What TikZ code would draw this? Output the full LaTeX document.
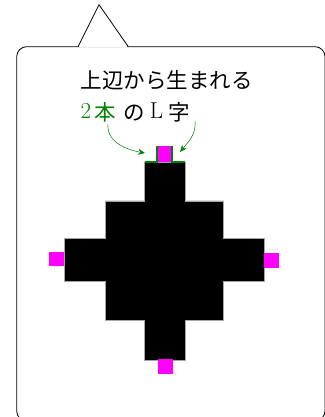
\documentclass[tikz,border=0pt]{standalone}
\usepackage{fontspec}
\newfontfamily\cjk{Noto Sans CJK JP}
\newfontfamily\lmr{Latin Modern Roman}
\usetikzlibrary{arrows.meta}
\definecolor{lgreen}{RGB}{0,128,0}
\definecolor{mag}{RGB}{255,0,255}
\tikzset{
  bubble/.style={draw=black, line width=0.8pt, fill=white},
  blob/.style={fill=black, draw=gray!70, line width=0.6pt},
  marker/.style={fill=mag, draw=none},
  lline/.style={draw=lgreen, line width=1.6pt},
  callarrow/.style={draw=lgreen, line width=0.5pt, -{Stealth[length=7pt,width=6pt]}},
  label/.style={inner sep=0pt, anchor=base west, font=\cjk\fontsize{21.5}{26}\selectfont}
}
\newcommand{\latn}[1]{\raisebox{2pt}{\fontsize{23}{27}\lmr\selectfont #1}}
\begin{document}
\begin{tikzpicture}[x=1pt,y=1pt]
\useasboundingbox (0,0) rectangle (324,417);
% speech bubble
\draw[bubble, rounded corners=10pt] (16.7,-4) rectangle (325,370.3);
\fill[white] (78.5,369.5) -- (99,412.3) -- (127.8,369.5) -- cycle;
\draw[line width=0.8pt, line join=miter] (78,370.3) -- (99,412.3) -- (128.3,370.3);
% text
\node[label] (t1) at (80.7,328.5) {上辺から生まれる};
\node[label] (t2) at (80.5,296.5) {{\color{lgreen}\latn{2}}\hspace{3.5pt}{\color{lgreen}本}\hspace{7pt}の\hspace{5pt}\latn{L}\hspace{5pt}字};
% shape
\draw[blob] (144.5,255) -- (185,255) -- (185,216) -- (223.5,216) -- (223.5,178.5)
  -- (264,178.5) -- (264,136) -- (223.5,136) -- (223.5,97) -- (185,97) -- (185,57)
  -- (144.5,57) -- (144.5,97) -- (105,97) -- (105,136) -- (64,136) -- (64,178.5)
  -- (105,178.5) -- (105,216) -- (144.5,216) -- cycle;
% magenta markers
\fill[marker] (157,255) rectangle (172,271);
\fill[marker] (49,151) rectangle (64,165);
\fill[marker] (264,149) rectangle (279,164);
\fill[marker] (158,43) rectangle (173,58);
% green L shapes
\coordinate (la) at (144.5,255);
\coordinate (lb) at (157,255);
\coordinate (lc) at (157,271);
\coordinate (ra) at (172,271);
\coordinate (rb) at (172,255);
\coordinate (rc) at (185,255);
\draw[lline] (la) -- (lb) -- (lc);
\draw[lline] (ra) -- (rb) -- (rc);
% arrows
\coordinate (s1) at (108,293);
\coordinate (e1) at (145,264);
\coordinate (s2) at (195,296);
\coordinate (e2) at (180,265);
\draw[callarrow] (s1) to[out=-95,in=170] (e1);
\draw[callarrow] (s2) to[out=-85,in=50] (e2);
\end{tikzpicture}
\end{document}
